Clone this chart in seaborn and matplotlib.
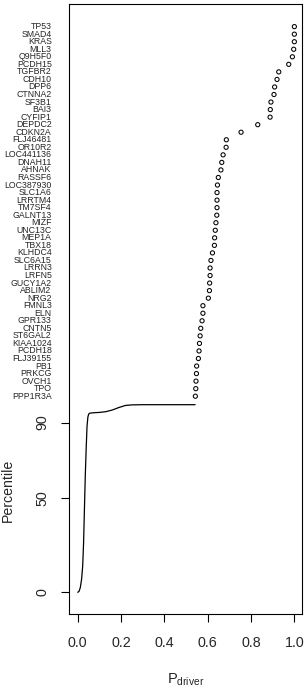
import matplotlib
matplotlib.use("Agg")
import matplotlib.pyplot as plt
import seaborn as sns
import pandas as pd

# ---- data ----
genes = ["TP53", "SMAD4", "KRAS", "MLL3", "Q9H5F0", "PCDH15", "TGFBR2", "CDH10",
         "DPP6", "CTNNA2", "SF3B1", "BAI3", "CYFIP1", "DEPDC2", "CDKN2A",
         "FLJ46481", "OR10R2", "LOC441136", "DNAH11", "AHNAK", "RASSF6",
         "LOC387930", "SLC1A6", "LRRTM4", "TM7SF4", "GALNT13", "MIZF", "UNC13C",
         "MEP1A", "TBX18", "KLHDC4", "SLC6A15", "LRRN3", "LRFN5", "GUCY1A2",
         "ABLIM2", "NRG2", "FMNL3", "ELN", "GPR133", "CNTN5", "ST6GAL2",
         "KIAA1024", "PCDH18", "FLJ39155", "PB1", "PRKCG", "OVCH1", "TPO",
         "PPP1R3A"]
p_driver = [1.000, 1.000, 1.000, 0.997, 0.991, 0.974, 0.928, 0.920,
            0.909, 0.906, 0.892, 0.889, 0.888, 0.831, 0.754,
            0.686, 0.685, 0.671, 0.665, 0.661, 0.649,
            0.645, 0.643, 0.643, 0.643, 0.642, 0.638, 0.635,
            0.632, 0.631, 0.622, 0.615, 0.611, 0.611, 0.609,
            0.608, 0.603, 0.578, 0.578, 0.574, 0.568, 0.565,
            0.562, 0.560, 0.557, 0.549, 0.548, 0.546, 0.545,
            0.543]
gene_rank = [300 - 4 * i for i in range(len(genes))]

curve_x = [0.0, 0.006, 0.012, 0.018, 0.023, 0.027, 0.031, 0.035, 0.039, 0.043,
           0.047, 0.051, 0.056, 0.07, 0.10, 0.13, 0.16, 0.19, 0.22, 0.25, 0.30, 0.542]
curve_y = [0.0, 0.5, 2.5, 7, 14, 26, 44, 62, 76, 88,
           93, 94.6, 95.0, 95.2, 95.4, 95.8, 96.7, 98.0, 99.1, 99.4, 99.5, 99.5]

x_ticks = [0.0, 0.2, 0.4, 0.6, 0.8, 1.0]
x_tick_labels = ["0.0", "0.2", "0.4", "0.6", "0.8", "1.0"]
y_ticks = [0, 50, 90]
y_tick_labels = ["0", "50", "90"]

# ---- style ----
sns.set_style("ticks")
plt.rcParams["font.family"] = ["Liberation Sans", "DejaVu Sans"]
plt.rcParams["mathtext.fontset"] = "custom"
plt.rcParams["mathtext.rm"] = "Liberation Sans"

W, H = 307, 689
fig = plt.figure(figsize=(W / 100, H / 100), dpi=100)
left, right, top, bottom = 69, 301.5, 4, 614
ax = fig.add_axes([left / W, (H - bottom) / H, (right - left) / W, (bottom - top) / H])

curve_df = pd.DataFrame({"x": curve_x, "y": curve_y})
sns.lineplot(data=curve_df, x="x", y="y", ax=ax, sort=False, color="black",
             linewidth=0.9, estimator=None)

pts_df = pd.DataFrame({"gene": genes, "p": p_driver, "rank": gene_rank})
sns.scatterplot(data=pts_df, x="p", y="rank", ax=ax, marker="o", s=9,
                facecolor="none", edgecolor="black", linewidth=0.75)

ax.set_xlim(-0.0402, 1.033)
ax.set_ylim(-11.5, 312)

for sp in ax.spines.values():
    sp.set_visible(True)
    sp.set_linewidth(0.8)
    sp.set_color("black")

ax.set_xticks(x_ticks)
ax.set_xticklabels(x_tick_labels)
ax.set_yticks(y_ticks)
ax.set_yticklabels(y_tick_labels, rotation=90, va="center")
ax.tick_params(axis="both", direction="out", length=6, width=0.8,
               labelsize=10.3, color="black")
ax.tick_params(axis="x", pad=10)
ax.tick_params(axis="y", pad=8)
ax.set_xlabel("")
ax.set_ylabel("")

# gene labels
trans = ax.get_yaxis_transform()
xlab = (51.7 - left) / (right - left)
for g, r in zip(genes, gene_rank):
    ax.text(xlab, r, g, transform=trans, ha="right", va="center",
            fontsize=6.3, clip_on=False)

fig.text(8 / W, 1 - 490 / H, "Percentile", rotation=90, ha="center",
         va="center", fontsize=10.2)
fig.text(185.3 / W, 1 - 684 / H, r"$\mathregular{P_{driver}}$", ha="center",
         va="baseline", fontsize=10.5)

fig.savefig("out.png", dpi=100)
